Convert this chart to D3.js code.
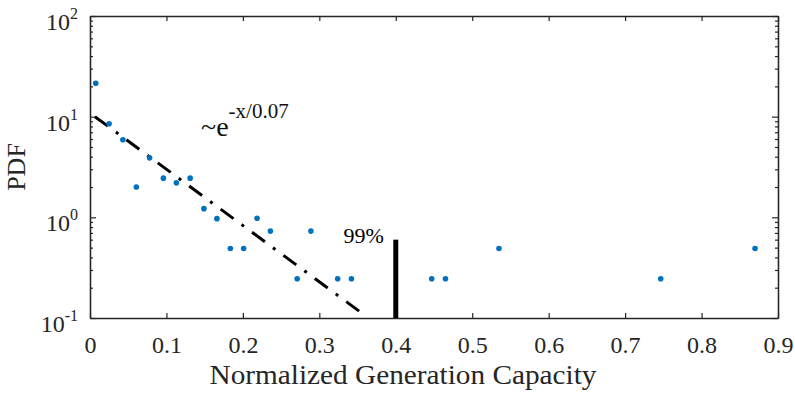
<!DOCTYPE html>
<html>
<head>
<meta charset="utf-8">
<script src="https://cdn.jsdelivr.net/npm/d3@7"></script>
<style>
  body { margin: 0; background: #fff; }
</style>
</head>
<body>
<div id="chart"></div>
<script>
// Scatter points: normalized generation capacity vs PDF
const capX = [0.0075, 0.025, 0.043, 0.0606, 0.078, 0.096, 0.113, 0.131, 0.149, 0.166,
              0.1836, 0.201, 0.2185, 0.236, 0.271, 0.289, 0.324, 0.342, 0.447, 0.465,
              0.535, 0.7466, 0.870];
const pdfY = [21.5, 8.5, 5.9, 2.0, 3.9, 2.45, 2.2, 2.45, 1.22, 0.97,
              0.49, 0.49, 0.98, 0.73, 0.245, 0.73, 0.245, 0.245, 0.245, 0.245,
              0.49, 0.245, 0.49];

// Exponential fit line end points
const fitX = [0.0065, 0.362];
const fitY = [10, 0.103];

// 99% marker
const markX = 0.4;
const markTop = 0.6;

// Tick values
const xTicks = [0, 0.1, 0.2, 0.3, 0.4, 0.5, 0.6, 0.7, 0.8, 0.9];
const yMajor = [0.1, 1, 10, 100];
const yExp = ["-1", "0", "1", "2"];

// Sizes
const w = 795;
const h = 394;
const m = {left: 90, top: 16, right: 17, bottom: 76};
const axisColor = "#262626";
const serif = "'Liberation Serif', 'Times New Roman', Times, serif";

const svg = d3.select("#chart").append("svg")
              .attr("width", w)
              .attr("height", h)
              .style("font-family", serif);

const xScale = d3.scaleLinear()
                 .domain([0, 0.9])
                 .range([m.left, w - m.right]);
const yScale = d3.scaleLog()
                 .domain([0.1, 100])
                 .range([h - m.bottom, m.top]);

// minor log ticks (2..9 of each decade)
const yMinor = yScale.ticks().filter(d => !yMajor.some(v => Math.abs(v - d) < 1e-9));

const styleAxis = g => {
    g.attr("font-family", null);
    g.select(".domain").attr("stroke", axisColor).attr("stroke-width", 1.3);
    g.selectAll(".tick line").attr("stroke", axisColor).attr("stroke-width", 1.2);
};

// bottom axis with inward ticks
svg.append("g")
   .attr("transform", "translate(0," + (h - m.bottom) + ")")
   .call(d3.axisBottom(xScale).tickValues(xTicks).tickSizeInner(-5).tickSizeOuter(0)
           .tickPadding(18).tickFormat(d => d === 0 ? "0" : d3.format(".1f")(d)))
   .call(styleAxis)
   .call(g => g.selectAll(".tick text")
               .attr("fill", axisColor)
               .style("font-family", serif)
               .style("font-size", "24px"));

// top axis (mirror)
svg.append("g")
   .attr("transform", "translate(0," + m.top + ")")
   .call(d3.axisTop(xScale).tickValues(xTicks).tickSizeInner(-5).tickSizeOuter(0).tickFormat(""))
   .call(styleAxis);

// left axis: minor then major ticks
svg.append("g")
   .attr("transform", "translate(" + m.left + ",0)")
   .call(d3.axisLeft(yScale).tickValues(yMinor).tickSizeInner(-3).tickSizeOuter(0).tickFormat(""))
   .call(styleAxis);
svg.append("g")
   .attr("transform", "translate(" + m.left + ",0)")
   .call(d3.axisLeft(yScale).tickValues(yMajor).tickSizeInner(-6).tickSizeOuter(0).tickFormat(""))
   .call(styleAxis);

// right axis (mirror)
svg.append("g")
   .attr("transform", "translate(" + (w - m.right) + ",0)")
   .call(d3.axisRight(yScale).tickValues(yMinor).tickSizeInner(-3).tickSizeOuter(0).tickFormat(""))
   .call(styleAxis);
svg.append("g")
   .attr("transform", "translate(" + (w - m.right) + ",0)")
   .call(d3.axisRight(yScale).tickValues(yMajor).tickSizeInner(-6).tickSizeOuter(0).tickFormat(""))
   .call(styleAxis);

// y tick labels as 10 with superscript exponent
const yLabels = svg.append("g")
   .selectAll("text")
   .data(yMajor)
   .enter()
   .append("text")
   .attr("x", m.left - 12)
   .attr("y", d => yScale(d) + 14)
   .attr("text-anchor", "end")
   .attr("fill", axisColor)
   .style("font-size", "24px");
yLabels.append("tspan").text("10");
yLabels.append("tspan")
       .attr("dy", -11)
       .style("font-size", "16px")
       .text((d, i) => yExp[i]);

// fit line (dash-dot)
svg.append("path")
   .datum(fitX.map((x, i) => [x, fitY[i]]))
   .attr("d", d3.line().x(d => xScale(d[0])).y(d => yScale(d[1])))
   .attr("fill", "none")
   .attr("stroke", "#000")
   .attr("stroke-width", 3)
   .attr("stroke-dasharray", "16,10,3,10");

// 99% vertical marker
svg.append("line")
   .attr("x1", xScale(markX))
   .attr("x2", xScale(markX))
   .attr("y1", yScale(markTop))
   .attr("y2", yScale(0.1))
   .attr("stroke", "#000")
   .attr("stroke-width", 5);
svg.append("text")
   .attr("x", xScale(markX) - 12)
   .attr("y", yScale(markTop) + 3)
   .attr("text-anchor", "end")
   .style("font-size", "22px")
   .text("99%");

// data points
svg.append("g")
   .selectAll("circle")
   .data(capX)
   .enter()
   .append("circle")
   .attr("cx", d => xScale(d))
   .attr("cy", (d, i) => yScale(pdfY[i]))
   .attr("r", 2.8)
   .attr("fill", "#0072BD");

// fit annotation
const ann = svg.append("text")
   .attr("x", 201)
   .attr("y", 136)
   .attr("fill", "#111")
   .style("font-size", "28px");
ann.append("tspan").text("~e");
ann.append("tspan")
   .attr("dy", -18)
   .style("font-size", "21px")
   .text("-x/0.07");

// axis labels
svg.append("text")
   .attr("x", 403)
   .attr("y", 384)
   .attr("text-anchor", "middle")
   .attr("fill", axisColor)
   .attr("textLength", 387)
   .attr("lengthAdjust", "spacingAndGlyphs")
   .style("font-size", "27px")
   .text("Normalized Generation Capacity");

svg.append("text")
   .attr("transform", "translate(25,167) rotate(-90)")
   .attr("text-anchor", "middle")
   .attr("fill", axisColor)
   .style("font-size", "26px")
   .text("PDF");
</script>
</body>
</html>
